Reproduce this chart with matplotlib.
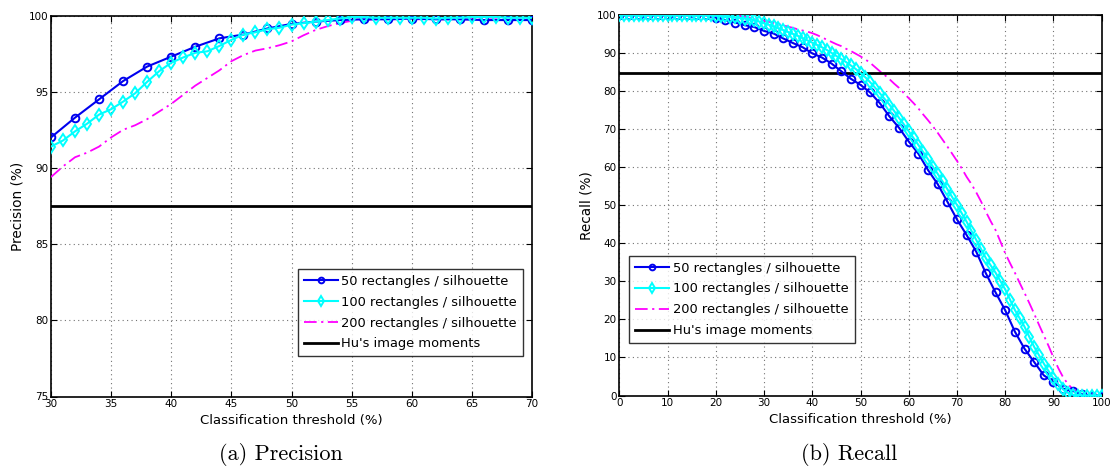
import matplotlib
matplotlib.use("Agg")
import matplotlib.pyplot as plt

# ---- precision (threshold 30..70) ----
prec_x50 = [30, 32, 34, 36, 38, 40, 42, 44, 46, 48, 50, 52, 54, 56, 58, 60, 62, 64, 66, 68, 70]
prec_50 = [92.0, 93.3, 94.5, 95.7, 96.65, 97.3, 97.95, 98.5, 98.75, 99.15, 99.45, 99.6, 99.7,
           99.75, 99.75, 99.8, 99.75, 99.75, 99.7, 99.7, 99.7]

prec_x100 = list(range(30, 71))
prec_100 = [91.4, 91.8, 92.4, 92.9, 93.5, 93.85, 94.35, 94.9, 95.65, 96.35, 96.9, 97.25, 97.55,
            97.65, 98.0, 98.4, 98.75, 98.9, 99.1, 99.2, 99.4, 99.5, 99.6, 99.7, 99.8, 99.9,
            99.9, 99.85, 99.85, 99.85, 99.85, 99.85, 99.8, 99.85, 99.85, 99.9, 99.9, 99.9,
            99.85, 99.85, 99.85]

prec_x200 = list(range(30, 71))
prec_200 = [89.4, 90.1, 90.7, 91.0, 91.4, 92.0, 92.5, 92.8, 93.2, 93.7, 94.2, 94.8, 95.4,
            95.9, 96.4, 97.0, 97.4, 97.7, 97.85, 98.05, 98.3, 98.7, 99.05, 99.3, 99.5, 99.65,
            99.72, 99.75, 99.75, 99.75, 99.75, 99.75, 99.75, 99.75, 99.75, 99.75, 99.75,
            99.75, 99.75, 99.75, 99.75]

prec_hu = 87.5

# ---- recall (threshold 0..100) ----
rec_x50 = list(range(0, 101, 2))
rec_50 = [100, 100, 100, 100, 100, 100, 100, 100, 100, 100, 99.4, 98.7, 98.1, 97.4, 96.9,
          95.9, 95.2, 93.9, 92.7, 91.6, 90.0, 88.9, 87.3, 85.3, 83.3, 81.7, 79.7, 76.9, 73.4,
          70.4, 66.8, 63.6, 59.3, 55.6, 51.0, 46.3, 42.2, 37.8, 32.1, 27.1, 22.4, 16.8, 12.3,
          8.8, 5.3, 3.6, 1.8, 1.2, 0.3, 0.0, 0.0]

rec_x100 = list(range(0, 101))
rec_100 = [100, 100, 100, 100, 100, 100, 100, 100, 100, 100,
           100, 100, 100, 100, 100, 100, 100, 100, 100, 100,
           99.9, 99.8, 99.7, 99.6, 99.45, 99.3, 99.15, 98.95, 98.7, 98.35,
           97.9, 97.5, 97.1, 96.6, 96.1, 95.6, 95.1, 94.6, 94.0, 93.4,
           92.8, 92.2, 91.6, 90.9, 90.1, 89.3, 88.5, 87.7, 86.8, 85.9,
           84.8, 83.7, 82.4, 81.0, 79.5, 78.0, 76.5, 74.8, 73.0, 71.3,
           69.5, 67.7, 65.9, 64.0, 62.1, 60.2, 58.3, 56.3, 54.3, 52.2,
           50.1, 47.9, 45.7, 43.3, 40.9, 38.5, 36.1, 34.2, 32.3, 30.1,
           27.9, 25.2, 22.5, 20.3, 18.1, 15.4, 12.8, 10.6, 8.4, 6.4,
           4.5, 2.9, 1.6, 0.7, 0.2, 0, 0, 0, 0, 0, 0]

rec_x200 = list(range(0, 101))
rec_200 = [100, 100, 100, 100, 100, 100, 100, 100, 100, 100,
           100, 100, 100, 100, 100, 100, 100, 100, 100, 100,
           100, 99.95, 99.95, 99.9, 99.9, 99.8, 99.6, 99.4, 99.2, 98.9,
           98.6, 98.3, 98.0, 97.7, 97.4, 97.0, 96.7, 96.3, 96.0, 95.7,
           95.3, 94.8, 94.2, 93.6, 93.0, 92.4, 91.9, 91.2, 90.6, 89.9,
           89.2, 88.4, 87.5, 86.4, 85.3, 84.3, 83.2, 82.0, 80.9, 79.5,
           78.2, 76.9, 75.5, 73.9, 72.4, 70.8, 69.1, 67.3, 65.5, 63.6,
           61.7, 59.7, 57.5, 55.6, 53.4, 51.0, 48.3, 45.8, 43.5, 40.5,
           37.4, 34.8, 32.3, 29.6, 27.0, 24.3, 21.5, 18.6, 15.8, 13.0,
           10.0, 7.2, 4.8, 3.0, 1.7, 0.9, 0.4, 0.1, 0, 0, 0]

rec_hu = 84.7

labels = ["50 rectangles / silhouette", "100 rectangles / silhouette",
          "200 rectangles / silhouette", "Hu's image moments"]

W, H = 1112, 468
fig = plt.figure(figsize=(W / 100, H / 100), dpi=100)


def px_axes(l, r, t, b):
    return fig.add_axes([l / W, 1 - b / H, (r - l) / W, (b - t) / H])


def draw(ax, x50, y50, x100, y100, x200, y200, hu, xlim, ylim, xticks, yticks):
    ax.plot(x50, y50, color="#0000ee", lw=1.5, marker="o", ms=5.5, mfc="none", mew=1.4,
            label=labels[0], zorder=4)
    ax.plot(x100, y100, color="#00ffff", lw=1.5, marker="d", ms=6.5, mfc="none", mew=1.4,
            label=labels[1], zorder=5)
    ax.plot(x200, y200, color="#ff00ff", lw=1.3, ls=(0, (7, 2.5, 1.2, 2.5)),
            label=labels[2], zorder=3)
    ax.axhline(hu, color="black", lw=2, label=labels[3], zorder=3)
    ax.set_xlim(*xlim)
    ax.set_ylim(*ylim)
    ax.set_xticks(xticks)
    ax.set_yticks(yticks)
    ax.grid(True, ls=(0, (1, 3)), color="0.45", lw=0.8)
    ax.tick_params(direction="in", top=True, right=True, labelsize=7.5, length=4, pad=2)
    for s in ax.spines.values():
        s.set_linewidth(1.2)
    ax.set_xlabel("Classification threshold (%)", fontsize=9.5)
    ax.xaxis.set_label_coords(0.5, -0.063)
    ax.xaxis.label.set_va("center")


ax1 = px_axes(51, 532, 15.5, 396.5)
draw(ax1, prec_x50, prec_50, prec_x100, prec_100, prec_x200, prec_200, prec_hu,
     (30, 70), (75, 100), range(30, 71, 5), range(75, 101, 5))
ax1.set_ylabel("Precision (%)", fontsize=9.8)
ax1.yaxis.set_label_coords(-0.069, 0.5)
ax1.yaxis.label.set_va("center")

ax2 = px_axes(619.3, 1101.7, 15.3, 395.5)
draw(ax2, rec_x50, rec_50, rec_x100, rec_100, rec_x200, rec_200, rec_hu,
     (0, 100), (0, 100), range(0, 101, 10), range(0, 101, 10))
ax2.set_ylabel("Recall (%)", fontsize=9.8)
ax2.yaxis.set_label_coords(-0.069, 0.5)
ax2.yaxis.label.set_va("center")

leg_kw = dict(fontsize=9.4, frameon=True, fancybox=False, handlelength=2.6,
              handletextpad=0.3, borderpad=0.45, labelspacing=0.6, borderaxespad=0,
              markerscale=0.75, loc="upper left")
lg1 = ax1.legend(bbox_to_anchor=((297.7 - 51) / 481, (396.5 - 269) / 381), **leg_kw)
lg2 = ax2.legend(bbox_to_anchor=((629.3 - 619.3) / 482.4, (395.5 - 255.7) / 380.2), **leg_kw)
for lg in (lg1, lg2):
    lg.get_frame().set_edgecolor("black")
    lg.get_frame().set_linewidth(1.0)

fig.text(281 / W, 1 - 455 / H, "(a) Precision", family="cmr10", fontsize=16,
         ha="center", va="center")
fig.text(849 / W, 1 - 455 / H, "(b) Recall", family="cmr10", fontsize=16,
         ha="center", va="center")

fig.savefig("out.png", dpi=100)
